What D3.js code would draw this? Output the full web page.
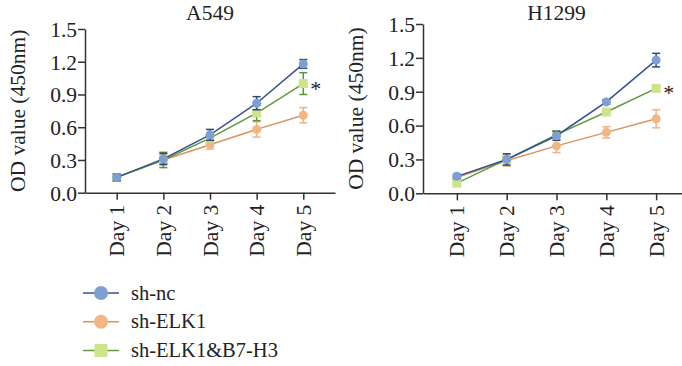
<!DOCTYPE html>
<html>
<head>
<meta charset="utf-8">
<script src="https://cdn.jsdelivr.net/npm/d3@7"></script>
<style>
  body { margin: 0; background: #fff; }
  svg text { font-family: "Liberation Serif", "DejaVu Serif", serif; fill: #222; }
</style>
</head>
<body>
<script>
// values (mean, error)
var days = ["Day 1", "Day 2", "Day 3", "Day 4", "Day 5"];
var yTicks = [0, 0.3, 0.6, 0.9, 1.2, 1.5];
var seriesNames = ["sh-nc", "sh-ELK1", "sh-ELK1&B7-H3"];

var a549Nc = [0.14, 0.31, 0.53, 0.82, 1.18];
var a549NcErr = [0.03, 0.05, 0.05, 0.06, 0.04];
var a549Elk1 = [0.14, 0.30, 0.44, 0.58, 0.71];
var a549Elk1Err = [0.03, 0.05, 0.04, 0.07, 0.07];
var a549B7 = [0.14, 0.30, 0.50, 0.73, 1.00];
var a549B7Err = [0.03, 0.07, 0.03, 0.07, 0.10];

var h1299Nc = [0.15, 0.30, 0.51, 0.81, 1.18];
var h1299NcErr = [0.02, 0.05, 0.04, 0.02, 0.06];
var h1299Elk1 = [0.14, 0.29, 0.42, 0.54, 0.66];
var h1299Elk1Err = [0.02, 0.05, 0.06, 0.05, 0.08];
var h1299B7 = [0.09, 0.30, 0.52, 0.72, 0.93];
var h1299B7Err = [0.01, 0.03, 0.02, 0.02, 0.02];

// line colour, marker fill, errorbar colour, marker shape
var styles = [
    {line: "#34508f", fill: "#7d9fd1", err: "#2c4583", shape: "circle"},
    {line: "#d7955f", fill: "#f2b684", err: "#f0b284", shape: "circle"},
    {line: "#5f9b3c", fill: "#cde38c", err: "#5a9636", shape: "square"}
];

var fontSize = 21.5;

window.onload = function(){
    var svg = d3.select("body").append("svg").attr("width", 682).attr("height", 366);

    drawPanel(svg, {
        title: "A549", left: 85, right: 335, top: 29, bottom: 192.7,
        means: [a549Nc, a549Elk1, a549B7], errs: [a549NcErr, a549Elk1Err, a549B7Err]
    });
    drawPanel(svg, {
        title: "H1299", left: 423, right: 690, top: 24, bottom: 193.3,
        means: [h1299Nc, h1299Elk1, h1299B7], errs: [h1299NcErr, h1299Elk1Err, h1299B7Err]
    });
    drawLegend(svg);
};

function drawMarker(g, shape, x, y, size, st){
    if (shape == "circle") {
        g.append("circle").attr("cx", x).attr("cy", y).attr("r", size / 2).attr("fill", st.fill);
    } else {
        g.append("rect").attr("x", x - size / 2).attr("y", y - size / 2)
            .attr("width", size).attr("height", size).attr("fill", st.fill);
    }
}

function drawPanel(svg, p){
    var x = d3.scalePoint().domain(days).range([p.left, p.right]).padding(0.68);
    var y = d3.scaleLinear().domain([0, 1.5]).range([p.bottom, p.top]);

    var g = svg.append("g");

    // y axis
    var ya = g.append("g")
        .attr("transform", "translate(" + p.left + ",0)")
        .call(d3.axisLeft(y).tickValues(yTicks).tickFormat(d3.format(".1f")).tickSize(7).tickSizeOuter(0));
    // x axis
    var xa = g.append("g")
        .attr("transform", "translate(0," + p.bottom + ")")
        .call(d3.axisBottom(x).tickSize(7).tickSizeOuter(0));

    [ya, xa].forEach(function(a){
        a.select(".domain").attr("stroke", "#333").attr("stroke-width", 1.5);
        a.selectAll(".tick line").attr("stroke", "#333").attr("stroke-width", 1.5);
        a.selectAll("text").attr("font-family", "Liberation Serif").attr("font-size", fontSize).attr("fill", "#222");
    });
    ya.selectAll(".tick text").attr("x", -8).attr("dy", "0.34em");
    xa.selectAll(".tick text")
        .attr("transform", "rotate(-90)")
        .attr("text-anchor", "end")
        .attr("x", -12).attr("y", 0).attr("dy", "0.33em");

    // lines, errorbars, markers (orange first, blue on top)
    var line = d3.line().x(function(d, i){ return x(days[i]); }).y(function(d){ return y(d); });
    [1, 2, 0].forEach(function(s){
        var st = styles[s];
        var sg = g.append("g");
        sg.append("path").datum(p.means[s]).attr("d", line)
            .attr("fill", "none").attr("stroke", st.line).attr("stroke-width", 1.5);
        p.means[s].forEach(function(m, i){
            var cx = x(days[i]), e = p.errs[s][i];
            var y1 = y(m + e), y2 = y(m - e);
            sg.append("line").attr("x1", cx).attr("x2", cx).attr("y1", y1).attr("y2", y2)
                .attr("stroke", st.err).attr("stroke-width", 1.5);
            [y1, y2].forEach(function(yy){
                sg.append("line").attr("x1", cx - 4).attr("x2", cx + 4).attr("y1", yy).attr("y2", yy)
                    .attr("stroke", st.err).attr("stroke-width", 1.5);
            });
        });
        p.means[s].forEach(function(m, i){
            drawMarker(sg, st.shape, x(days[i]), y(m), 9, st);
        });
    });

    // significance star next to day 5 of the rescue group
    g.append("text")
        .attr("x", x(days[4]) + 7).attr("y", y(p.means[2][4]) + 12)
        .attr("font-size", 22).attr("fill", "#444").text("*");

    // title
    g.append("text")
        .attr("x", (p.left + p.right) / 2)
        .attr("y", 20)
        .attr("text-anchor", "middle")
        .attr("font-size", fontSize)
        .text(p.title);

    // y label
    g.append("text")
        .attr("transform", "translate(" + (p.left - 60) + "," + ((p.top + p.bottom) / 2) + ") rotate(-90)")
        .attr("text-anchor", "middle")
        .attr("font-size", fontSize)
        .text("OD value (450nm)");
}

function drawLegend(svg){
    var lg = svg.append("g");
    seriesNames.forEach(function(name, i){
        var st = styles[i];
        var yy = 293 + i * 28.7;
        lg.append("line").attr("x1", 83).attr("x2", 119).attr("y1", yy).attr("y2", yy)
            .attr("stroke", st.line).attr("stroke-width", 1.5);
        drawMarker(lg, st.shape, 101, yy, st.shape == "circle" ? 14 : 13, st);
        lg.append("text").attr("x", 131).attr("y", yy).attr("dy", "0.33em")
            .attr("font-size", 20.5).text(name);
    });
}
</script>
</body>
</html>
